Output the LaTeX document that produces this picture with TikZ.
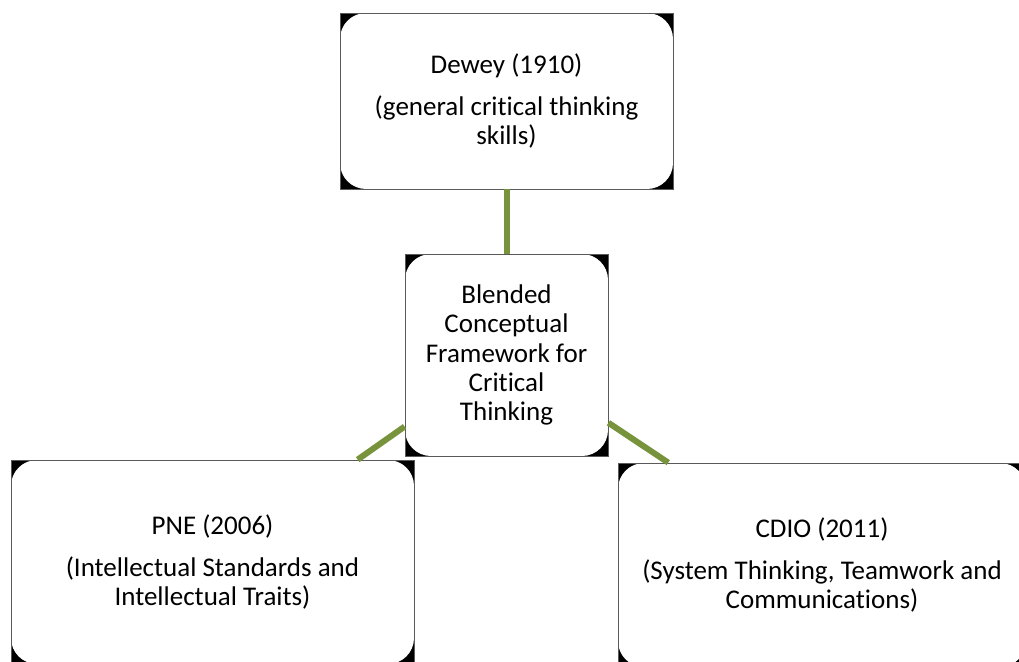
\documentclass[tikz,border=0pt]{standalone}
\usepackage{fontspec}
\setmainfont{Carlito}[RawFeature={-liga;-calt}]
\begin{document}
\definecolor{linkgreen}{RGB}{119,147,60}
\definecolor{edgegray}{RGB}{90,90,90}
\begin{tikzpicture}[x=1pt,y=-1pt,
  card/.style={rectangle, inner sep=0pt, fill=black, draw=edgegray, line width=0.8pt,
    align=center, font=\fontsize{27}{29.2}\selectfont,
    path picture={\fill[white, rounded corners=26pt]
      (path picture bounding box.south west) rectangle (path picture bounding box.north east);}},
  link/.style={draw=linkgreen, line width=6pt}]
\useasboundingbox (0,0) rectangle (1019,661);
\begin{scope}
\clip (0,0) rectangle (1019,661);
% the four framework cards
\node[card, minimum width=333pt, minimum height=176pt] (dewey) at (506.5,101)
  {Dewey (1910)\\[12pt](general critical thinking\\skills)};
\node[card, minimum width=203pt, minimum height=202pt] (blend) at (506.5,355)
  {Blended\\Conceptual\\Framework for\\Critical\\Thinking};
\node[card, minimum width=403pt, minimum height=204pt] (pne) at (212.5,562)
  {PNE (2006)\\[12pt](Intellectual Standards and\\Intellectual Traits)};
\node[card, minimum width=408pt, minimum height=204pt] (cdio) at (822,565)
  {CDIO (2011)\\[12pt](System Thinking, Teamwork and\\Communications)};
% links from the blended framework to its sources
\draw[link] (dewey) -- (blend);
\draw[link] (blend) -- (pne);
\draw[link] (blend) -- (cdio);
\end{scope}
\end{tikzpicture}
\end{document}
